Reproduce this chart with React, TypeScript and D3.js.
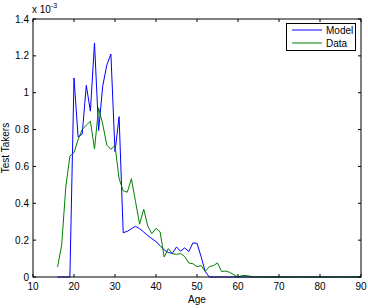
import React from "react";
import * as d3 from "d3";

const ages: number[] = d3.range(16, 91);
const modelValues: number[] = [
  0, 0, 0, 0, 1.08, 0.76, 0.775, 1.04, 0.9, 1.27,
  0.795, 1.035, 1.15, 1.21, 0.68, 0.87, 0.24, 0.248, 0.262, 0.275,
  0.262, 0.244, 0.225, 0.208, 0.192, 0.17, 0.147, 0.133, 0.128, 0.163,
  0.14, 0.158, 0.138, 0.185, 0.183, 0.11, 0.03, 0, 0, 0,
  0, 0, 0, 0, 0, 0, 0, 0, 0, 0,
  0, 0, 0, 0, 0, 0, 0, 0, 0, 0,
  0, 0, 0, 0, 0, 0, 0, 0, 0, 0,
  0, 0, 0, 0, 0,
];
const dataValues: number[] = [
  0.055, 0.175, 0.488, 0.657, 0.675, 0.745, 0.8, 0.824, 0.845, 0.695,
  0.918, 0.83, 0.716, 0.693, 0.713, 0.533, 0.468, 0.46, 0.533, 0.41,
  0.287, 0.368, 0.276, 0.235, 0.264, 0.245, 0.108, 0.154, 0.126, 0.123,
  0.127, 0.111, 0.076, 0.072, 0.056, 0.062, 0.03, 0.056, 0.062, 0.076,
  0.03, 0.032, 0.025, 0.012, 0, 0.008, 0.008, 0.004, 0, 0,
  0, 0, 0, 0, 0, 0, 0, 0, 0, 0,
  0, 0, 0, 0, 0, 0, 0, 0, 0, 0,
  0, 0, 0, 0, 0,
];
const xTicks: number[] = [10, 20, 30, 40, 50, 60, 70, 80, 90];
const yTicks: number[] = [0, 0.2, 0.4, 0.6, 0.8, 1, 1.2, 1.4];
const seriesNames: string[] = ["Model", "Data"];
const seriesColors: string[] = ["#0000ff", "#008000"];

const W = 368;
const H = 308;
const FONT = "'Liberation Sans', Arial, Helvetica, sans-serif";

export default function App() {
  const left = 33, right = 361, top = 19, bottom = 277;
  const x = d3.scaleLinear().domain([10, 90]).range([left, right]);
  const y = d3.scaleLinear().domain([0, 1.4]).range([bottom, top]);
  const line = d3
    .line<number>()
    .x((_, i) => x(ages[i]))
    .y((d) => y(d));
  const series = [modelValues, dataValues];
  const tl = 3;

  return (
    <svg
      width={W}
      height={H}
      style={{ position: "absolute", left: 0, top: 0, background: "#fff" }}
      fontFamily={FONT}
    >
      <rect x={0} y={0} width={W} height={H} fill="#fff" />
      {series.map((s, k) => (
        <path key={k} d={line(s) || ""} fill="none" stroke={seriesColors[k]} strokeWidth={1} />
      ))}
      {/* axes box */}
      <rect x={left} y={top} width={right - left} height={bottom - top} fill="none" stroke="#000" strokeWidth={1} />
      {xTicks.map((t) => (
        <g key={"x" + t}>
          <line x1={x(t)} x2={x(t)} y1={bottom} y2={bottom - tl} stroke="#000" />
          <line x1={x(t)} x2={x(t)} y1={top} y2={top + tl} stroke="#000" />
          <text x={x(t)} y={bottom + 13} fontSize={10} textAnchor="middle" fill="#000">
            {t}
          </text>
        </g>
      ))}
      {yTicks.map((t) => (
        <g key={"y" + t}>
          <line x1={left} x2={left + tl} y1={y(t)} y2={y(t)} stroke="#000" />
          <line x1={right} x2={right - tl} y1={y(t)} y2={y(t)} stroke="#000" />
          <text x={left - 4} y={y(t) + 3.5} fontSize={10} textAnchor="end" fill="#000">
            {String(t)}
          </text>
        </g>
      ))}
      <text x={left - 1} y={top - 6} fontSize={10} fill="#000">
        x 10
        <tspan dy={-5} fontSize={7}>-3</tspan>
      </text>
      <text x={(left + right) / 2} y={bottom + 26} fontSize={10} textAnchor="middle" fill="#000">
        Age
      </text>
      <text
        transform={`translate(9,${(top + bottom) / 2}) rotate(-90)`}
        fontSize={10}
        textAnchor="middle"
        fill="#000"
      >
        Test Takers
      </text>
      {/* legend */}
      <rect x={286.5} y={23.5} width={69} height={27} fill="#fff" stroke="#000" strokeWidth={1} />
      {seriesNames.map((n, k) => (
        <g key={n}>
          <line x1={292} x2={322} y1={30 + k * 13} y2={30 + k * 13} stroke={seriesColors[k]} strokeWidth={1} />
          <text x={326} y={33.5 + k * 13} fontSize={10} fill="#000">
            {n}
          </text>
        </g>
      ))}
    </svg>
  );
}
